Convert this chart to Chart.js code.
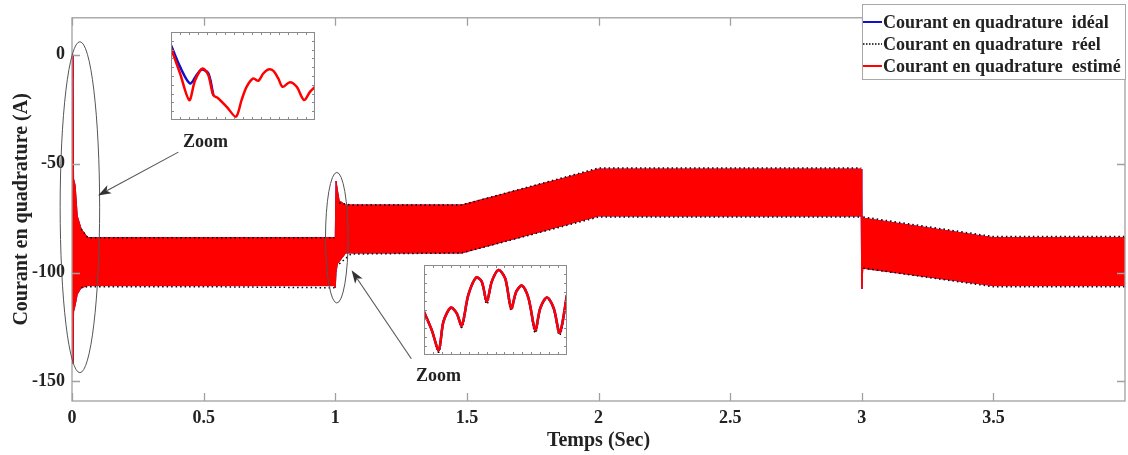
<!DOCTYPE html>
<html><head><meta charset="utf-8">
<script src="https://cdn.jsdelivr.net/npm/chart.js@4.4.0/dist/chart.umd.min.js"></script>
<style>
html,body{margin:0;padding:0;background:#fff;}
#wrap{position:relative;width:1128px;height:455px;overflow:hidden;}
#main{position:absolute;left:0;top:0;}
.inset{position:absolute;background:#fff;}
</style></head><body>
<div id="wrap">
<canvas id="main" width="1128" height="455"></canvas>
<canvas id="in1" class="inset" width="144" height="88" style="left:171px;top:32px"></canvas>
<canvas id="in2" class="inset" width="143" height="90" style="left:424px;top:265px"></canvas>
</div>
<script>
// ---- main chart data (envelope of the fast ripple band) ----
const timeSec  = [0, 0.003, 0.006, 0.012, 0.02, 0.035, 0.06, 0.997, 1.0, 1.003, 1.008, 1.015, 1.04, 1.48, 2.0, 2.998, 3.0, 3.004, 3.5, 4.0];
const estUpper = [0, -10, -57, -60, -74, -80, -84, -84, -84, -58, -62, -67, -69, -69, -52.5, -52.5, -73, -75, -84, -84];
const estLower = [0, -142, -118, -115, -110, -107, -106, -106, -107, -100, -96, -95, -91, -91, -74, -74, -107.5, -98, -106, -106];
const reelTime  = [0.035, 0.06, 0.5, 0.997, 1.0, 1.015, 1.06, 1.48, 2.0, 2.5, 2.998, 3.0, 3.006, 3.5, 4.0];
const reelUpper = [-80, -84, -84, -84, null, -68, -69, -69, -52, -52, -52, null, -74.5, -83.5, -83.5];
const reelLower = [-107, -106.5, -106.5, -107, null, -96, -91.5, -91, -74.5, -74.5, -74.5, null, -98, -106.5, -106.5];
const xTicks = [0, 0.5, 1, 1.5, 2, 2.5, 3, 3.5];
const yTicks = [-150, -100, -50, 0];
const legendLabels = ['Courant en quadrature  idéal', 'Courant en quadrature  réel', 'Courant en quadrature  estimé'];
// ---- zoom insets (relative units 0..100 inside each inset box) ----
const inset1X     = [0, 6.3, 12.7, 16.7, 22, 25.9, 29.4, 32.9, 38.7, 45.1, 49, 52.5, 57.2, 60.6, 64.1, 67.6, 71.1, 74.5, 77.5, 82.6, 87.3, 92.4, 96.5, 100];
const inset1Est   = [81.5, 52.8, 22.6, 45, 58.5, 51, 28.3, 24.5, 15, 3.8, 22.6, 37.7, 47.2, 44.5, 52.8, 57.4, 55.8, 47.2, 37.7, 43, 37.7, 22.6, 32, 37.7];
const inset1IdealX = [0, 6.3, 13.2, 17.8, 21.3, 25.9, 29.4];
const inset1Ideal  = [85, 60.4, 41.5, 51, 57.4, 53, 28.3];
const inset2X    = [0, 5.4, 10.3, 13.6, 18.7, 22.9, 26.4, 31, 36.4, 40.4, 43.9, 47.4, 52.1, 56.8, 61, 64.5, 68.5, 73.1, 77.8, 81.3, 86, 90.7, 94.9, 100];
const inset2Est  = [48, 27.8, 5.6, 37, 52.6, 46.3, 32.6, 66.7, 86, 81.5, 59.3, 81.5, 94.4, 85, 51.9, 70.4, 77, 63, 27.8, 51.9, 64, 51.9, 24.8, 66.7];
const inset2Reel = [48, 27.8, 3.5, 37, 52.6, 46.3, 31, 66.7, 86, 81.5, 57, 81.5, 94.4, 85, 50, 70.4, 77, 63, 25, 51.9, 64, 51.9, 22.5, 66.7];

const pts = (xs, ys) => xs.map((x, i) => ({x: x, y: ys[i]}));
const SERIF = '"Liberation Serif", "Times New Roman", serif';
const RED = '#ff0000', BLUE = '#1010d0', BLACK = '#000000';

// annotations placed in data coordinates
const ellipses = [{x: 0.03, y: -70, rx: 0.075, ry: 76}, {x: 1.006, y: -84, rx: 0.043, ry: 30}];
const arrows = [{x1: 0.404, y1: -44.7, x2: 0.099, y2: -64.6}, {x1: 1.289, y1: -139.6, x2: 1.062, y2: -99}];
const zoomTexts = [{x: 0.507, y: -40.2}, {x: 1.392, y: -147.8}];

const deco = {
  id: 'deco',
  afterDraw(chart) {
    const {ctx, chartArea: a, scales: {x, y}} = chart;
    ctx.save();
    // frame
    ctx.strokeStyle = '#a0a0a0'; ctx.lineWidth = 1.3;
    ctx.strokeRect(a.left, a.top, a.right - a.left, a.bottom - a.top);
    const tl = 8;
    ctx.beginPath();
    xTicks.forEach(v => { const p = Math.round(x.getPixelForValue(v)) + 0.5;
      ctx.moveTo(p, a.bottom); ctx.lineTo(p, a.bottom - tl); ctx.moveTo(p, a.top); ctx.lineTo(p, a.top + tl); });
    yTicks.forEach(v => { const p = Math.round(y.getPixelForValue(v)) + 0.5;
      ctx.moveTo(a.left, p); ctx.lineTo(a.left + tl, p); ctx.moveTo(a.right, p); ctx.lineTo(a.right - tl, p); });
    ctx.stroke();
    // ellipses
    ctx.strokeStyle = '#555'; ctx.lineWidth = 1;
    ellipses.forEach(e => {
      const cx = x.getPixelForValue(e.x), cy = y.getPixelForValue(e.y);
      const rx = x.getPixelForValue(e.x + e.rx) - cx, ry = cy - y.getPixelForValue(e.y + e.ry);
      ctx.beginPath(); ctx.ellipse(cx, cy, rx, ry, 0, 0, Math.PI * 2); ctx.stroke();
    });
    // arrows
    arrows.forEach(r => {
      const x1 = x.getPixelForValue(r.x1), y1 = y.getPixelForValue(r.y1);
      const x2 = x.getPixelForValue(r.x2), y2 = y.getPixelForValue(r.y2);
      const ang = Math.atan2(y2 - y1, x2 - x1), L = 13, W = 4.5;
      ctx.strokeStyle = '#555'; ctx.lineWidth = 1.1;
      ctx.beginPath(); ctx.moveTo(x1, y1); ctx.lineTo(x2 - L * 0.8 * Math.cos(ang), y2 - L * 0.8 * Math.sin(ang)); ctx.stroke();
      ctx.fillStyle = '#333';
      ctx.beginPath(); ctx.moveTo(x2, y2);
      ctx.lineTo(x2 - L * Math.cos(ang) + W * Math.sin(ang), y2 - L * Math.sin(ang) - W * Math.cos(ang));
      ctx.lineTo(x2 - L * 0.75 * Math.cos(ang), y2 - L * 0.75 * Math.sin(ang));
      ctx.lineTo(x2 - L * Math.cos(ang) - W * Math.sin(ang), y2 - L * Math.sin(ang) + W * Math.cos(ang));
      ctx.closePath(); ctx.fill();
    });
    // zoom labels
    ctx.fillStyle = '#222'; ctx.font = 'bold 18px ' + SERIF; ctx.textAlign = 'center'; ctx.textBaseline = 'middle';
    zoomTexts.forEach(t => ctx.fillText('Zoom', x.getPixelForValue(t.x), y.getPixelForValue(t.y)));
    // legend
    const lx = 862, ly = 4, lw = a.right - lx, lh = 75;
    ctx.fillStyle = '#fff'; ctx.fillRect(lx, ly, lw, lh);
    ctx.strokeStyle = '#a8a8a8'; ctx.lineWidth = 1; ctx.strokeRect(lx + 0.5, ly + 0.5, lw, lh);
    const rows = [22, 44, 66];
    const styles = [{c: BLUE, d: [], w: 2}, {c: BLACK, d: [1.5, 1.5], w: 1.5}, {c: RED, d: [], w: 2}];
    rows.forEach((ry, i) => {
      ctx.strokeStyle = styles[i].c; ctx.lineWidth = styles[i].w; ctx.setLineDash(styles[i].d);
      ctx.beginPath(); ctx.moveTo(lx + 1, ry); ctx.lineTo(lx + 20, ry); ctx.stroke();
      ctx.setLineDash([]);
      ctx.fillStyle = '#222'; ctx.font = 'bold 18px ' + SERIF; ctx.textAlign = 'left'; ctx.textBaseline = 'middle';
      ctx.fillText(legendLabels[i], lx + 21, ry + 1);
    });
    ctx.restore();
  }
};

const tickFont = {family: SERIF, size: 18, weight: 'bold'};
const titleFont = {family: SERIF, size: 20, weight: 'bold'};

new Chart(document.getElementById('main'), {
  type: 'line',
  data: {
    datasets: [
      {label: legendLabels[1], data: pts(reelTime, reelUpper), borderColor: BLACK, borderWidth: 1.5, borderDash: [1.5, 3], fill: false, spanGaps: false},
      {label: legendLabels[1] + ' (env. inf.)', data: pts(reelTime, reelLower), borderColor: BLACK, borderWidth: 1.5, borderDash: [1.5, 3], fill: false, spanGaps: false},
      {label: legendLabels[2], data: pts(timeSec, estUpper), borderColor: RED, borderWidth: 1, backgroundColor: RED, fill: '+1'},
      {label: legendLabels[2] + ' (env. inf.)', data: pts(timeSec, estLower), borderColor: RED, borderWidth: 1, fill: false},
      {label: legendLabels[0], data: pts(timeSec, estUpper), borderColor: BLUE, borderWidth: 1, fill: false},
      {label: legendLabels[0] + ' (env. inf.)', data: pts(timeSec, estLower), borderColor: BLUE, borderWidth: 1, fill: false}
    ]
  },
  options: {
    responsive: false, animation: false, events: [],
    layout: {padding: {top: 11, right: 3, left: 0, bottom: 0}},
    plugins: {legend: {display: false}, tooltip: {enabled: false}},
    elements: {line: {tension: 0}, point: {radius: 0}},
    scales: {
      x: {
        type: 'linear', min: 0, max: 4,
        afterBuildTicks: s => { s.ticks = xTicks.map(v => ({value: v})); },
        afterFit: s => { s.height = 54; },
        grid: {display: false, drawTicks: false}, border: {display: false},
        ticks: {padding: 7, color: '#222', font: tickFont, maxRotation: 0, autoSkip: false, callback: v => String(v)},
        title: {display: true, text: 'Temps (Sec)', color: '#222', font: titleFont, padding: {top: 0, bottom: 2}}
      },
      y: {
        type: 'linear', min: -159, max: 17,
        afterBuildTicks: s => { s.ticks = yTicks.map(v => ({value: v})); },
        afterFit: s => { s.width = 72; },
        grid: {display: false, drawTicks: false}, border: {display: false},
        ticks: {padding: 7, color: '#222', font: tickFont, autoSkip: false, callback: v => String(v)},
        title: {display: true, text: 'Courant en quadrature (A)', color: '#222', font: titleFont, padding: {top: 10, bottom: 0}}
      }
    }
  },
  plugins: [deco]
});

const insetFrame = {
  id: 'insetFrame',
  afterDraw(chart) {
    const {ctx, width: w, height: h} = chart;
    ctx.save();
    ctx.strokeStyle = '#8a8a8a'; ctx.lineWidth = 1;
    ctx.strokeRect(0.5, 0.5, w - 1, h - 1);
    ctx.beginPath();
    for (let i = 1; i < 16; i++) { const px = Math.round(i * w / 16) + 0.5; ctx.moveTo(px, 0); ctx.lineTo(px, 3); ctx.moveTo(px, h); ctx.lineTo(px, h - 3); }
    for (let i = 1; i < 10; i++) { const py = Math.round(i * h / 10) + 0.5; ctx.moveTo(0, py); ctx.lineTo(3, py); ctx.moveTo(w, py); ctx.lineTo(w - 3, py); }
    ctx.stroke();
    ctx.restore();
  }
};
function insetChart(id, datasets) {
  new Chart(document.getElementById(id), {
    type: 'line', data: {datasets: datasets},
    options: {
      responsive: false, animation: false, events: [],
      layout: {padding: 0},
      plugins: {legend: {display: false}, tooltip: {enabled: false}},
      elements: {point: {radius: 0}, line: {tension: 0.3}},
      scales: {x: {type: 'linear', min: 0, max: 100, display: false}, y: {min: 0, max: 100, display: false}}
    },
    plugins: [insetFrame]
  });
}
insetChart('in1', [
  {label: 'estimé', data: pts(inset1X, inset1Est), borderColor: RED, borderWidth: 2.5},
  {label: 'idéal', data: pts(inset1IdealX, inset1Ideal), borderColor: BLUE, borderWidth: 2.5},
  {label: 'réel', data: pts(inset1IdealX, inset1Ideal), borderColor: BLACK, borderWidth: 1.5, borderDash: [1.5, 2]}
]);
insetChart('in2', [
  {label: 'estimé', data: pts(inset2X, inset2Est), borderColor: RED, borderWidth: 2.5},
  {label: 'idéal', data: pts(inset2X, inset2Est), borderColor: BLUE, borderWidth: 2.5},
  {label: 'réel', data: pts(inset2X, inset2Reel), borderColor: BLACK, borderWidth: 2, borderDash: [1.5, 2]}
]);
</script>
</body></html>
